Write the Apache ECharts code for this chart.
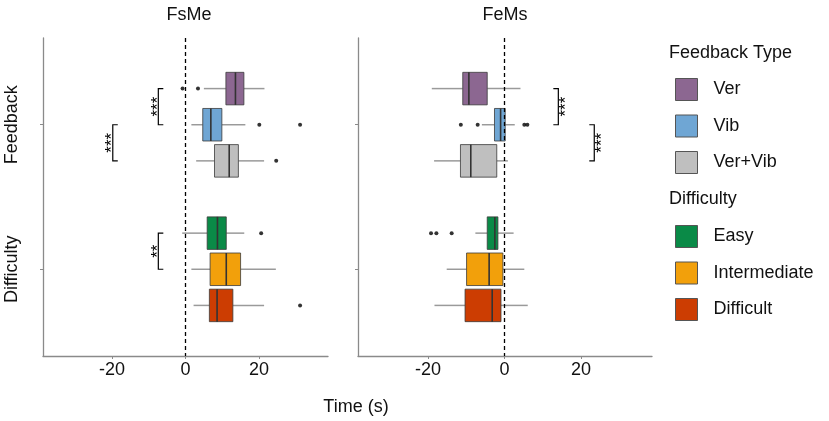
<!DOCTYPE html>
<html><head><meta charset="utf-8">
<script src="https://cdn.jsdelivr.net/npm/echarts@6/dist/echarts.min.js"></script>
<style>html,body{margin:0;padding:0;background:#fff}#c{width:829px;height:421px}</style>
</head><body><div id="c"></div>
<script>
const panels = ['FsMe', 'FeMs'];
const categories = ['Feedback', 'Difficulty'];
const feedbackTypes = ['Ver', 'Vib', 'Ver+Vib'];
const difficultyLevels = ['Easy', 'Intermediate', 'Difficult'];
const xTicks = [-20, 0, 20];
const xTitle = 'Time (s)';
const legendTitles = ['Feedback Type', 'Difficulty'];

// [lower whisker, Q1, median, Q3, upper whisker]; order: Ver, Vib, Ver+Vib, Easy, Intermediate, Difficult
const fsmeBoxes = [
  [5.0, 11.0, 13.6, 15.9, 21.5],
  [1.6, 4.7, 6.9, 9.9, 16.3],
  [2.9, 7.9, 11.9, 14.4, 21.4],
  [-0.9, 5.9, 8.7, 11.1, 16.0],
  [1.6, 6.7, 11.1, 15.0, 24.6],
  [2.2, 6.5, 8.6, 12.9, 21.4]
];
const fsmeOutliers = [[-0.8, 3.4], [20.1, 31.2], [24.7], [20.6], [], [31.2]];

const femsBoxes = [
  [-19.0, -10.9, -9.3, -4.5, 4.2],
  [-5.9, -2.6, -1.0, 0.2, 2.7],
  [-18.4, -11.5, -8.8, -2.0, 0.9],
  [-7.6, -4.5, -2.5, -1.7, 2.4],
  [-15.1, -9.9, -4.0, -0.4, 5.2],
  [-18.3, -10.3, -3.2, -0.9, 6.1]
];
const femsOutliers = [[], [-11.4, -7.0, 5.2, 6.0], [], [-19.2, -17.8, -13.8], [], []];

// significance brackets: [x value, first group, second group]
const fsmeBrackets = [[-7.4, 0, 1], [-19.8, 1, 2], [-7.4, 3, 4]];
const fsmeStars = ['***', '***', '**'];
const femsBrackets = [[14.1, 0, 1], [23.5, 1, 2]];
const femsStars = ['***', '***'];

const groupNames = feedbackTypes.concat(difficultyLevels);
const groupColors = ['#8C6791', '#6FA6D4', '#BFBFBF', '#0A8A47', '#F2A00B', '#CC3D02'];
const FONT = '"Liberation Sans", Arial, sans-serif';
const DODGE = 0.25, BOX = 0.225;
function slotY(g) { return Math.floor(g / 3) + 1 + ((g % 3) - 1) * DODGE; }

function renderBox(params, api) {
  const g = api.value(5);
  const y = slotY(g);
  const h = BOX / 2;
  const lo = api.coord([api.value(0), y]);
  const q1 = api.coord([api.value(1), y]);
  const q3 = api.coord([api.value(3), y]);
  const hi = api.coord([api.value(4), y]);
  const tl = api.coord([api.value(1), y - h]);
  const br = api.coord([api.value(3), y + h]);
  const mt = api.coord([api.value(2), y - h]);
  const mb = api.coord([api.value(2), y + h]);
  return {
    type: 'group',
    children: [
      { type: 'line', shape: { x1: lo[0], y1: lo[1], x2: q1[0], y2: q1[1] }, style: { stroke: '#9a9a9a', lineWidth: 1.5 } },
      { type: 'line', shape: { x1: q3[0], y1: q3[1], x2: hi[0], y2: hi[1] }, style: { stroke: '#9a9a9a', lineWidth: 1.5 } },
      { type: 'rect', shape: { x: tl[0], y: tl[1], width: br[0] - tl[0], height: br[1] - tl[1] }, style: { fill: groupColors[g], stroke: '#3a3a3a', lineWidth: 0.8 } },
      { type: 'line', shape: { x1: mt[0], y1: mt[1], x2: mb[0], y2: mb[1] }, style: { stroke: '#333', lineWidth: 1.6 } }
    ]
  };
}

function makeBracketRenderer(stars, dir) {
  return function (params, api) {
    const x = api.value(0);
    const a = api.coord([x, slotY(api.value(1))]);
    const b = api.coord([x, slotY(api.value(2))]);
    const arm = 5 * dir;
    return {
      type: 'group',
      children: [
        { type: 'polyline', shape: { points: [[a[0] + arm, a[1]], [a[0], a[1]], [b[0], b[1]], [b[0] + arm, b[1]]] }, style: { stroke: '#000', fill: null, lineWidth: 1.2 } },
        { type: 'text', x: a[0] - dir * 4 + 4, y: (a[1] + b[1]) / 2, rotation: Math.PI / 2,
          style: { text: stars[params.dataIndex], font: '17px ' + FONT, fill: '#000', align: 'center', verticalAlign: 'middle' } }
      ]
    };
  };
}

const panelBoxes = [fsmeBoxes, femsBoxes];
const panelOutliers = [fsmeOutliers, femsOutliers];
const panelBrackets = [fsmeBrackets, femsBrackets];
const panelStars = [fsmeStars, femsStars];
const panelRanges = [[-38.8, 38.8], [-38.3, 38.6]];

const series = [];
panels.forEach((p, pi) => {
  groupNames.forEach((name, g) => {
    series.push({
      type: 'custom', name: name, xAxisIndex: pi, yAxisIndex: pi,
      itemStyle: { color: groupColors[g] },
      data: [panelBoxes[pi][g].concat([g])],
      encode: { x: [0, 1, 2, 3, 4], y: 5 },
      renderItem: renderBox, z: 2, silent: true
    });
  });
  const pts = [];
  panelOutliers[pi].forEach((vals, g) => vals.forEach(v => pts.push([v, slotY(g)])));
  series.push({
    type: 'scatter', xAxisIndex: pi, yAxisIndex: pi, data: pts,
    symbolSize: 4, itemStyle: { color: '#000' }, z: 4, silent: true,
    markLine: {
      silent: true, symbol: ['none', 'none'], label: { show: false },
      lineStyle: { color: '#000', type: [4, 3], width: 1.3 },
      data: [{ xAxis: 0 }]
    }
  });
  series.push({
    type: 'custom', xAxisIndex: pi, yAxisIndex: pi,
    data: panelBrackets[pi], encode: { x: 0, y: 1 },
    renderItem: makeBracketRenderer(panelStars[pi], pi === 0 ? 1 : -1), z: 5, silent: true
  });
});

const axisColor = '#8a8a8a';
const option = {
  animation: false,
  backgroundColor: '#fff',
  textStyle: { fontFamily: FONT },
  grid: [
    { left: 43, top: 38, width: 285, height: 318 },
    { left: 358, top: 38, width: 294, height: 318 }
  ],
  xAxis: panels.map((p, pi) => ({
    type: 'value', gridIndex: pi, min: panelRanges[pi][0], max: panelRanges[pi][1],
    axisLine: { show: true, onZero: false, lineStyle: { color: axisColor, width: 1.3 } },
    axisTick: { show: true, customValues: xTicks, length: 3, lineStyle: { color: axisColor } },
    axisLabel: { customValues: xTicks, fontSize: 18, color: '#111', margin: 5, fontFamily: FONT },
    splitLine: { show: false }
  })),
  yAxis: panels.map((p, pi) => ({
    type: 'value', gridIndex: pi, min: 0.4, max: 2.6, inverse: true,
    axisLine: { show: true, onZero: false, lineStyle: { color: axisColor, width: 1.3 } },
    axisTick: { show: true, customValues: [1, 2], length: 3, lineStyle: { color: axisColor } },
    axisLabel: { show: pi === 0, customValues: [1, 2], rotate: 90, fontSize: 18, color: '#111', margin: 22, fontFamily: FONT,
      formatter: v => categories[Math.round(v) - 1] || '' },
    splitLine: { show: false }
  })),
  legend: [
    { orient: 'vertical', left: 675, top: 78, itemWidth: 22, itemHeight: 22, itemGap: 13.5, icon: 'rect', selectedMode: false, padding: 0,
      textStyle: { fontSize: 18, color: '#111', fontFamily: FONT, padding: [0, 0, 0, 11] },
      data: feedbackTypes.map((n, i) => ({ name: n, itemStyle: { color: groupColors[i], borderColor: '#555', borderWidth: 1 } })) },
    { orient: 'vertical', left: 675, top: 225, itemWidth: 22, itemHeight: 22, itemGap: 13.5, icon: 'rect', selectedMode: false, padding: 0,
      textStyle: { fontSize: 18, color: '#111', fontFamily: FONT, padding: [0, 0, 0, 11] },
      data: difficultyLevels.map((n, i) => ({ name: n, itemStyle: { color: groupColors[i + 3], borderColor: '#555', borderWidth: 1 } })) }
  ],
  graphic: [
    { type: 'text', x: 189, y: 15, style: { text: panels[0], font: '18px ' + FONT, fill: '#111', align: 'center', verticalAlign: 'middle' } },
    { type: 'text', x: 505, y: 15, style: { text: panels[1], font: '18px ' + FONT, fill: '#111', align: 'center', verticalAlign: 'middle' } },
    { type: 'text', x: 356, y: 407, style: { text: xTitle, font: '18px ' + FONT, fill: '#111', align: 'center', verticalAlign: 'middle' } },
    { type: 'text', x: 669, y: 53, style: { text: legendTitles[0], font: '18px ' + FONT, fill: '#111', align: 'left', verticalAlign: 'middle' } },
    { type: 'text', x: 669, y: 199, style: { text: legendTitles[1], font: '18px ' + FONT, fill: '#111', align: 'left', verticalAlign: 'middle' } }
  ],
  series: series
};
const chart = echarts.init(document.getElementById('c'), null, { renderer: 'canvas' });
chart.setOption(option);
</script></body></html>
